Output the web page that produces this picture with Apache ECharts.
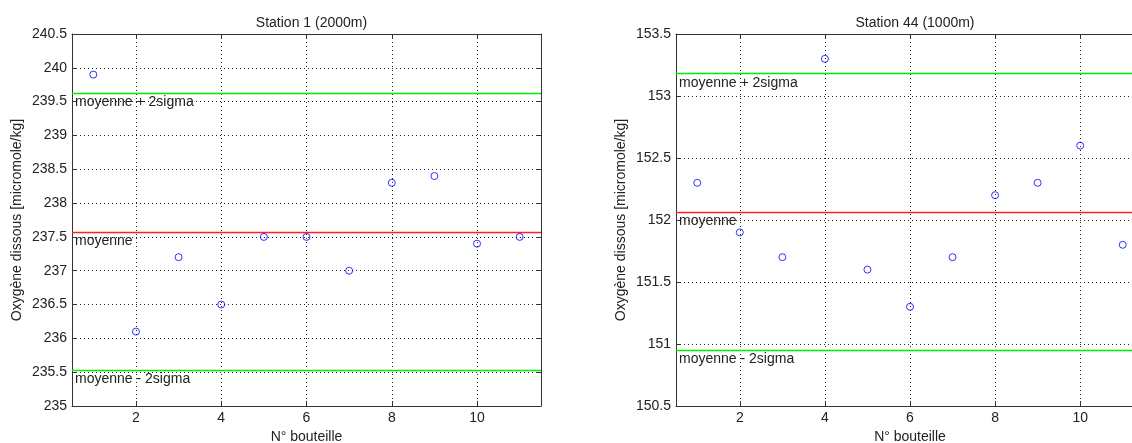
<!DOCTYPE html>
<html>
<head>
<meta charset="utf-8">
<script src="https://cdn.jsdelivr.net/npm/echarts@6/dist/echarts.min.js"></script>
<style>
html,body{margin:0;padding:0;background:#fff;overflow:hidden;}
#c{width:1132px;height:443px;}
</style>
</head>
<body>
<div id="c"></div>
<script>
// ---- data ----
const bottles = [1, 2, 3, 4, 5, 6, 7, 8, 9, 10, 11];
const station1 = [239.9, 236.1, 237.2, 236.5, 237.5, 237.5, 237.0, 238.3, 238.4, 237.4, 237.5];
const station44 = [152.3, 151.9, 151.7, 153.3, 151.6, 151.3, 151.7, 152.2, 152.3, 152.6, 151.8];
const xTicks = [2, 4, 6, 8, 10];
const titles = ['Station 1 (2000m)', 'Station 44 (1000m)'];
const xName = 'N° bouteille';
const yName = 'Oxygène dissous [micromole/kg]';
const lineLabels = ['moyenne + 2sigma', 'moyenne', 'moyenne - 2sigma'];
const yRanges = [[235, 240.5], [150.5, 153.5]];

function stats(a) {
  const n = a.length;
  const m = a.reduce((s, v) => s + v, 0) / n;
  const sd = Math.sqrt(a.reduce((s, v) => s + (v - m) * (v - m), 0) / (n - 1));
  return [m + 2 * sd, m, m - 2 * sd];
}

const FONT = 'Liberation Sans, Arial, sans-serif';
const TXT = '#222';
const FS = 14;

const grids = [
  {left: 72, top: 34, width: 469, height: 372, containLabel: false, outerBoundsMode: 'none'},
  {left: 676, top: 34, width: 468, height: 372, containLabel: false, outerBoundsMode: 'none'}
];

const xAxes = [], yAxes = [], series = [], titleOpts = [];
const lineColors = ['#00ee00', '#ff2020', '#00ee00'];
[station1, station44].forEach((vals, g) => {
  const gr = grids[g];
  titleOpts.push({
    text: titles[g], left: gr.left + gr.width / 2, top: 11, textAlign: 'center',
    textStyle: {fontFamily: FONT, fontSize: FS, fontWeight: 'normal', color: TXT}
  });
  const tickIn = {show: true, inside: true, length: 5, customValues: xTicks, lineStyle: {color: '#333'}};
  xAxes.push({
    gridIndex: g, type: 'value', min: 0.5, max: 11.5, position: 'bottom',
    name: xName, nameLocation: 'middle', nameGap: 24,
    nameTextStyle: {fontFamily: FONT, fontSize: FS, color: TXT},
    axisLine: {show: true, onZero: false, lineStyle: {color: '#333', width: 1}},
    axisTick: tickIn,
    axisLabel: {customValues: xTicks, margin: 5, fontFamily: FONT, fontSize: FS, color: TXT},
    splitLine: {show: true, lineStyle: {type: [1, 3], color: '#222', width: 1}}
  });
  xAxes.push({
    gridIndex: g, type: 'value', min: 0.5, max: 11.5, position: 'top',
    axisLine: {show: true, onZero: false, lineStyle: {color: '#333', width: 1}},
    axisTick: tickIn, axisLabel: {show: false, customValues: xTicks}, splitLine: {show: false}
  });
  const yr = yRanges[g];
  yAxes.push({
    gridIndex: g, type: 'value', min: yr[0], max: yr[1], interval: 0.5, position: 'left',
    name: yName, nameLocation: 'middle', nameGap: 48,
    nameTextStyle: {fontFamily: FONT, fontSize: FS, color: TXT},
    axisLine: {show: true, onZero: false, lineStyle: {color: '#333', width: 1}},
    axisTick: {show: true, inside: true, length: 5, lineStyle: {color: '#333'}},
    axisLabel: {margin: 5, fontFamily: FONT, fontSize: FS, color: TXT},
    splitLine: {show: true, lineStyle: {type: [1, 3], color: '#222', width: 1}}
  });
  yAxes.push({
    gridIndex: g, type: 'value', min: yr[0], max: yr[1], interval: 0.5, position: 'right',
    show: g === 0,
    axisLine: {show: true, onZero: false, lineStyle: {color: '#333', width: 1}},
    axisTick: {show: true, inside: true, length: 5, lineStyle: {color: '#333'}},
    axisLabel: {show: false}, splitLine: {show: false}
  });
  series.push({
    type: 'scatter', xAxisIndex: 2 * g, yAxisIndex: 2 * g,
    data: bottles.map((b, i) => [b, vals[i]]),
    symbol: 'circle', symbolSize: 7,
    itemStyle: {color: 'rgba(0,0,0,0)', borderColor: '#0000ff', borderWidth: 1},
    silent: true, z: 5
  });
  const st = stats(vals);
  st.forEach((v, k) => {
    series.push({
      type: 'line', xAxisIndex: 2 * g, yAxisIndex: 2 * g, data: [],
      silent: true, z: 4,
      markLine: {
        silent: true, symbol: 'none', animation: false,
        lineStyle: {color: lineColors[k], width: 1.3, type: 'solid'},
        emphasis: {disabled: true},
        label: {
          show: true, formatter: lineLabels[k], position: 'insideStartBottom',
          distance: [3, 2], fontFamily: FONT, fontSize: FS, color: TXT
        },
        data: [{yAxis: v}]
      }
    });
  });
});

const chart = echarts.init(document.getElementById('c'), null, {renderer: 'canvas'});
chart.setOption({
  animation: false,
  backgroundColor: '#fff',
  title: titleOpts,
  grid: grids,
  xAxis: xAxes,
  yAxis: yAxes,
  series: series
});
</script>
</body>
</html>
